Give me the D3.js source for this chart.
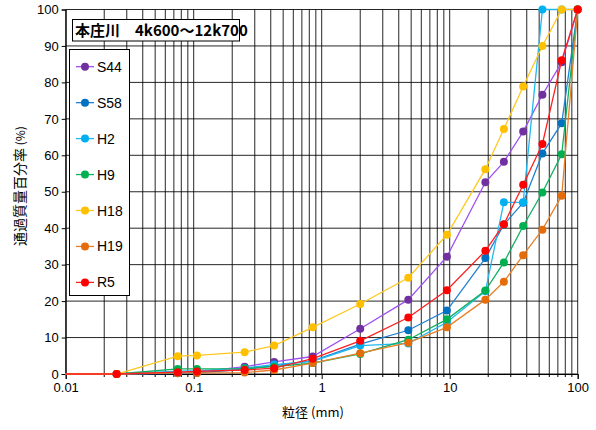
<!DOCTYPE html>
<html>
<head>
<meta charset="utf-8">
<script src="https://cdn.jsdelivr.net/npm/d3@7"></script>
<style>
  body { margin: 0; background: #fff; }
  svg { display: block; }
  text { font-family: "Liberation Sans", Arial, "Noto Sans CJK JP", sans-serif; }
</style>
</head>
<body>
<svg id="chart" width="596" height="430"></svg>
<script>
// Sieve sizes (mm) and percentage passing for each survey year
const sizes = [0.01, 0.025, 0.075, 0.106, 0.25, 0.425, 0.85, 2, 4.75, 9.5, 19, 26.5, 37.5, 53, 75, 100];

const seriesNames = ["S44", "S58", "H2", "H9", "H18", "H19", "R5"];
const seriesColors = ["#7030A0", "#0070C0", "#00B0F0", "#00B050", "#FFC000", "#E46C0A", "#FF0000"];
const lineColors   = ["#A050F0", "#1F7FD0", "#20B8F0", "#10B060", "#FFC820", "#E8802A", "#FF2020"];

const S44 = [0, 0, 0.4, 0.5, 2.0, 3.3, 4.8, 12.4, 20.4, 32.2, 52.6, 58.2, 66.5, 76.6, 85.5, 100];
const S58 = [0, 0, 0.2, 0.3, 1.3, 2.3, 3.6, 8.2, 12.0, 17.4, 31.8, 41.0, 47.0, 60.5, 68.8, 100];
const H2  = [0, 0, 0.8, 0.9, 1.6, 2.6, 3.5, 7.8, 8.4, 14.2, 22.7, 47.1, 47.1, 100, 100, 100];
const H9  = [0, 0, 1.4, 1.4, 1.5, 2.0, 3.0, 5.5, 9.4, 15.0, 22.9, 30.6, 40.6, 49.8, 60.3, 100];
const H18 = [0, 0, 4.9, 5.1, 6.0, 7.8, 12.8, 19.2, 26.4, 38.2, 56.2, 67.2, 78.9, 90.0, 100, 100];
const H19 = [0, 0, 0.3, 0.3, 0.4, 1.1, 3.0, 5.7, 8.6, 12.8, 20.4, 25.3, 32.6, 39.6, 48.9, 100];
const R5  = [0, 0, 0.5, 0.7, 1.1, 1.6, 4.2, 9.1, 15.5, 23.0, 33.8, 41.1, 51.9, 63.1, 86.1, 100];

const seriesValues = [S44, S58, H2, H9, H18, H19, R5];

const xTickLabels = ["0.01", "0.1", "1", "10", "100"];
const yTickValues = [0, 10, 20, 30, 40, 50, 60, 70, 80, 90, 100];

const titleText = "本庄川　4k600～12k700";
const xTitle = "粒径 (mm)";
const yTitle = "通過質量百分率";

const svg = d3.select("#chart");
const margin = { left: 65.7, right: 18.3, top: 9.5, bottom: 56 };
const W = 596, H = 430;

const x = d3.scaleLog().domain([0.01, 100]).range([margin.left, W - margin.right]);
const y = d3.scaleLinear().domain([0, 100]).range([H - margin.bottom, margin.top]);

const x0 = x.range()[0], x1 = x.range()[1];
const y0 = y.range()[0], y1 = y.range()[1];

// Log grid: every 1..9 multiple within each decade
const gridX = [];
for (let e = -2; e < 2; e++) {
  for (let m = 1; m < 10; m++) gridX.push(m * Math.pow(10, e));
}
gridX.push(100);

const grid = svg.append("g");
grid.selectAll("line.vx").data(gridX).join("line")
  .attr("x1", d => x(d)).attr("x2", d => x(d))
  .attr("y1", y1).attr("y2", y0)
  .attr("stroke", "#000").attr("stroke-width", 1).attr("stroke-opacity", 0.85);

grid.selectAll("line.hy").data(yTickValues).join("line")
  .attr("x1", x0).attr("x2", x1)
  .attr("y1", d => y(d)).attr("y2", d => y(d))
  .attr("stroke", "#000").attr("stroke-width", 1).attr("stroke-opacity", 0.85);

// Axes
const yAxis = d3.axisLeft(y).tickValues(yTickValues).tickSize(4).tickPadding(3).tickFormat(d3.format("d"));
const gy = svg.append("g").attr("transform", `translate(${x0},0)`).call(yAxis);
gy.select(".domain").attr("stroke", "#000");
gy.selectAll("text").attr("font-size", 13).attr("fill", "#000");

const majorX = xTickLabels.map(Number);
const xAxis = d3.axisBottom(x).tickValues(majorX).tickSize(5).tickPadding(4)
  .tickFormat((d, i) => xTickLabels[i]);
const gx = svg.append("g").attr("transform", `translate(0,${y0})`).call(xAxis);
gx.select(".domain").attr("stroke", "#000");
gx.selectAll("text").attr("font-size", 13).attr("fill", "#000");

// Minor ticks on the x axis
svg.append("g").selectAll("line").data(gridX.filter(d => !majorX.includes(d))).join("line")
  .attr("x1", d => x(d)).attr("x2", d => x(d))
  .attr("y1", y0).attr("y2", y0 + 3)
  .attr("stroke", "#000");

// Series lines and markers
const line = d3.line().x(d => x(d.s)).y(d => y(d.v));

seriesNames.forEach((name, i) => {
  const pts = sizes.map((s, j) => ({ s, v: seriesValues[i][j] }));
  const g = svg.append("g");
  g.append("path").datum(pts)
    .attr("d", line)
    .attr("fill", "none")
    .attr("stroke", lineColors[i])
    .attr("stroke-width", 1.3);
  g.selectAll("circle").data(pts.filter(d => d.s > 0.01)).join("circle")
    .attr("cx", d => x(d.s)).attr("cy", d => y(d.v))
    .attr("r", 4)
    .attr("fill", seriesColors[i]);
});

// Title box
const tg = svg.append("g");
tg.append("rect").attr("x", 72.5).attr("y", 19.5).attr("width", 167).attr("height", 21.5)
  .attr("fill", "#fff").attr("stroke", "#000");
tg.append("text").attr("x", 75).attr("y", 36)
  .attr("font-size", 15).attr("font-weight", "bold").attr("fill", "#000")
  .style("font-family", "'Noto Sans CJK JP', 'Liberation Sans', sans-serif")
  .text(titleText);

// Legend
const lg = svg.append("g");
lg.append("rect").attr("x", 69.5).attr("y", 49.5).attr("width", 60).attr("height", 246)
  .attr("fill", "#fff").attr("stroke", "#000");
seriesNames.forEach((name, i) => {
  const cy = 66.7 + i * 35.95;
  lg.append("line").attr("x1", 76).attr("x2", 94).attr("y1", cy).attr("y2", cy)
    .attr("stroke", lineColors[i]).attr("stroke-width", 1.3);
  lg.append("circle").attr("cx", 85).attr("cy", cy).attr("r", 4).attr("fill", seriesColors[i]);
  lg.append("text").attr("x", 97).attr("y", cy + 5)
    .attr("font-size", 14).attr("fill", "#000").text(name);
});

// Axis titles
svg.append("text").attr("x", 313).attr("y", 417)
  .attr("text-anchor", "middle").attr("font-size", 13).attr("fill", "#000")
  .style("font-family", "'Noto Sans CJK JP', sans-serif")
  .text(xTitle);

const yt = svg.append("text")
  .attr("transform", "translate(25,186) rotate(-90)")
  .attr("text-anchor", "middle").attr("font-size", 14).attr("fill", "#000")
  .style("font-family", "'Noto Sans CJK JP', sans-serif");
yt.append("tspan").text(yTitle);
yt.append("tspan").attr("font-size", 12).text(" (%)");
</script>
</body>
</html>
